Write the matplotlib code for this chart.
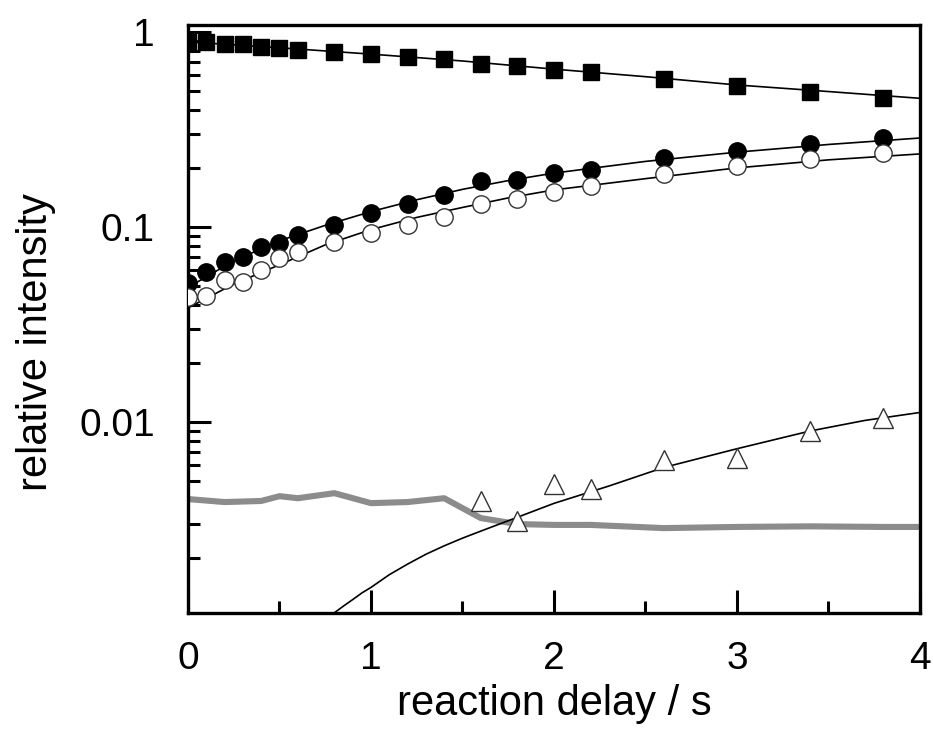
import matplotlib.pyplot as plt
from matplotlib.ticker import FixedLocator, LogLocator, NullFormatter

plt.rcParams["font.family"] = ["Liberation Sans", "DejaVu Sans"]

# ── Data ──────────────────────────────────────────────────────────────────────
delay = [0.0, 0.1, 0.2, 0.3, 0.4, 0.5, 0.6, 0.8, 1.0, 1.2, 1.4, 1.6, 1.8,
         2.0, 2.2, 2.6, 3.0, 3.4, 3.8]
squares = [0.89, 0.889, 0.868, 0.868, 0.838, 0.828, 0.809, 0.790, 0.771,
           0.744, 0.727, 0.685, 0.669, 0.639, 0.624, 0.574, 0.529, 0.492, 0.459]
filled = [0.0516, 0.0588, 0.0662, 0.0702, 0.0789, 0.0828, 0.091, 0.102, 0.118,
          0.131, 0.146, 0.172, 0.174, 0.189, 0.196, 0.226, 0.245, 0.267, 0.286]
opened = [0.0438, 0.0442, 0.0535, 0.0524, 0.0602, 0.0693, 0.0744, 0.0838,
          0.0931, 0.1024, 0.1125, 0.131, 0.139, 0.151, 0.162, 0.187, 0.206,
          0.223, 0.240]

tri_delay = [1.6, 1.8, 2.0, 2.2, 2.6, 3.0, 3.4, 3.8]
triangles = [0.00394, 0.00312, 0.00481, 0.00453, 0.00638, 0.00654, 0.0090, 0.0105]

grey_delay = [0.0, 0.2, 0.4, 0.5, 0.6, 0.8, 1.0, 1.2, 1.4, 1.6, 1.8, 2.0, 2.2,
              2.6, 3.0, 3.4, 3.8, 4.0]
grey = [0.00403, 0.00389, 0.00394, 0.00417, 0.00407, 0.00432, 0.00384,
        0.00389, 0.00407, 0.00322, 0.00300, 0.00297, 0.00297, 0.00286,
        0.00290, 0.00292, 0.00290, 0.00290]

# fitted curves
fit_sq_x = [0.0, 0.5, 1.0, 1.5, 2.0, 2.5, 3.0, 3.5, 4.0]
fit_sq_y = [0.89, 0.83, 0.77, 0.71, 0.645, 0.59, 0.535, 0.495, 0.457]
fit_c_x = [0.0, 0.25, 0.5, 0.75, 1.0, 1.25, 1.5, 1.75, 2.0, 2.5, 3.0, 3.5, 4.0]
fit_filled = [0.049, 0.067, 0.085, 0.102, 0.12, 0.138, 0.156, 0.173, 0.189,
              0.217, 0.242, 0.265, 0.286]
fit_open = [0.0385, 0.051, 0.064, 0.081, 0.097, 0.112, 0.126, 0.141, 0.155,
            0.177, 0.201, 0.221, 0.237]
fit_tri_x = [0.7, 0.78, 0.85, 0.9, 0.95, 1.0, 1.1, 1.2, 1.3, 1.4, 1.5, 1.6,
             1.8, 2.0, 2.3, 2.6, 3.0, 3.4, 3.7, 4.0]
fit_tri_y = [0.00089, 0.00102, 0.00114, 0.00123, 0.00133, 0.00142, 0.00165,
             0.00187, 0.00210, 0.00232, 0.00254, 0.00276, 0.00325, 0.00383,
             0.0047, 0.00585, 0.0073, 0.0090, 0.0102, 0.0112]

# ── Plot ──────────────────────────────────────────────────────────────────────
fig = plt.figure(figsize=(9.33, 7.35), dpi=100)
ax = fig.add_axes([0.2015, 0.166, 0.7845, 0.800])

ax.plot(grey_delay, grey, color="#8c8c8c", lw=4.4, solid_joinstyle="round", zorder=2)

for fx, fy in [(fit_sq_x, fit_sq_y), (fit_c_x, fit_filled), (fit_c_x, fit_open),
               (fit_tri_x, fit_tri_y)]:
    ax.plot(fx, fy, color="black", lw=1.2, zorder=3)

ax.plot(delay, squares, "s", ms=11, color="black", zorder=4)
ax.plot(delay, filled, "o", ms=12.5, color="black", zorder=4)
ax.plot(delay, opened, "o", ms=12.5, mfc="white", mec="#333333", mew=1.0, zorder=4)
ax.plot(tri_delay, triangles, "^", ms=15, mfc="white", mec="#333333", mew=1.0,
        zorder=4)

ax.set_yscale("log")
ax.set_xlim(0, 4)
ax.set_ylim(0.00105, 1.086)

ax.xaxis.set_major_locator(FixedLocator([0, 1, 2, 3, 4]))
ax.xaxis.set_minor_locator(FixedLocator([0.5, 1.5, 2.5, 3.5]))
ax.set_xticklabels(["0", "1", "2", "3", "4"])
ax.yaxis.set_major_locator(FixedLocator([0.01, 0.1, 1]))
ax.set_yticklabels(["0.01", "0.1", "1"])
ax.yaxis.set_minor_locator(LogLocator(base=10, subs=range(2, 10), numticks=20))
ax.yaxis.set_minor_formatter(NullFormatter())

ax.tick_params(which="both", direction="in", top=False, right=False, width=2.2,
               labelsize=28)
ax.tick_params(which="major", length=16.5)
ax.tick_params(which="minor", length=8.5)
ax.tick_params(axis="y", which="major", pad=24)
ax.tick_params(axis="x", which="major", pad=20)

for s in ax.spines.values():
    s.set_linewidth(2.4)

ax.set_xlabel("reaction delay / s", fontsize=30, labelpad=5)
ax.set_ylabel("relative intensity", fontsize=30, labelpad=8)
ax.yaxis.set_label_coords(-0.18, 0.46)

fig.savefig("out.png", dpi=100, facecolor="white")
